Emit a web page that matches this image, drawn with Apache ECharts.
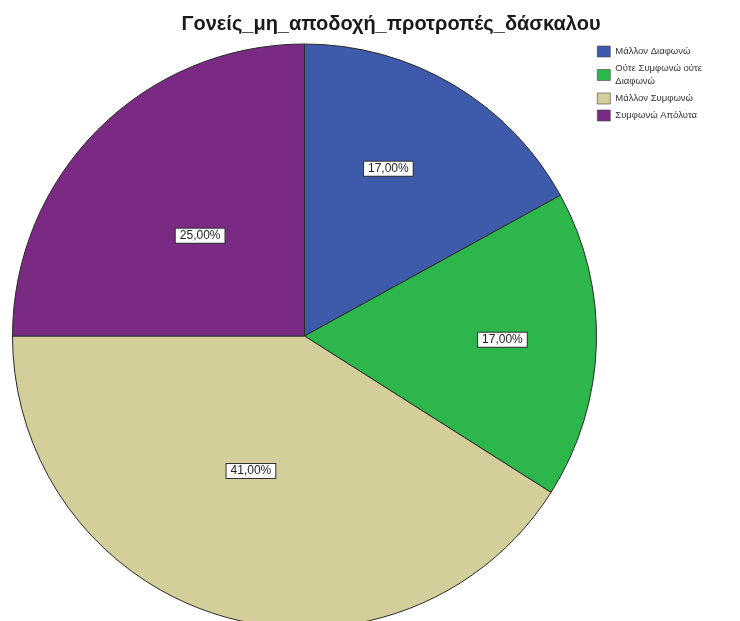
<!DOCTYPE html>
<html>
<head>
<meta charset="utf-8">
<script src="https://cdn.jsdelivr.net/npm/echarts@6/dist/echarts.min.js"></script>
<style>
  html, body { margin: 0; padding: 0; background: #fff; }
  #chart { width: 740px; height: 621px; }
</style>
</head>
<body>
<div id="chart"></div>
<script>
// Response categories and their percentages
const categories = ['Μάλλον Διαφωνώ', 'Ούτε Συμφωνώ ούτε Διαφωνώ', 'Μάλλον Συμφωνώ', 'Συμφωνώ Απόλυτα'];
const percents = [17, 17, 41, 25];
const sliceColors = ['#3d5aab', '#2db64b', '#d4ce9a', '#7a2a83'];

// Label nudges per slice (pixels), so labels sit near each slice's centroid
const labelShift = [[8, -39], [49, -1], [-12, -8], [1, 5]];

const chart = echarts.init(document.getElementById('chart'), null, { renderer: 'canvas' });

chart.setOption({
  animation: false,
  backgroundColor: '#ffffff',
  title: {
    text: 'Γονείς_μη_αποδοχή_προτροπές_δάσκαλου',
    left: 391,
    top: 14,
    padding: 0,
    textAlign: 'center',
    textStyle: { fontFamily: 'Liberation Sans, Arial, sans-serif', fontSize: 20, fontWeight: 'bold', color: '#1a1a1a' }
  },
  legend: {
    orient: 'vertical',
    left: 597,
    top: 45,
    padding: 0,
    itemWidth: 13,
    itemHeight: 11,
    itemGap: 4,
    icon: 'rect',
    data: categories,
    formatter: function (name) {
      return name === 'Ούτε Συμφωνώ ούτε Διαφωνώ' ? 'Ούτε Συμφωνώ ούτε\nΔιαφωνώ' : name;
    },
    textStyle: { fontFamily: 'Liberation Sans, Arial, sans-serif', fontSize: 9.5, color: '#333', lineHeight: 13 },
    itemStyle: { borderColor: '#444', borderWidth: 0.6 }
  },
  series: [{
    type: 'pie',
    center: [304.5, 336],
    radius: 292,
    startAngle: 90,
    clockwise: true,
    silent: true,
    data: categories.map(function (c, i) {
      return { name: c, value: percents[i], itemStyle: { color: sliceColors[i] } };
    }),
    itemStyle: { borderColor: '#2a2a2a', borderWidth: 1 },
    label: {
      show: true,
      position: 'inside',
      formatter: function (p) { return p.value.toFixed(2).replace('.', ',') + '%'; },
      fontFamily: 'Liberation Sans, Arial, sans-serif',
      fontSize: 12,
      lineHeight: 13,
      color: '#222',
      backgroundColor: '#ffffff',
      borderColor: '#333',
      borderWidth: 1,
      padding: [1, 4, 0, 4]
    },
    labelLine: { show: false },
    labelLayout: function (params) {
      const s = labelShift[params.dataIndex];
      return { dx: s[0], dy: s[1] };
    }
  }]
});
</script>
</body>
</html>
